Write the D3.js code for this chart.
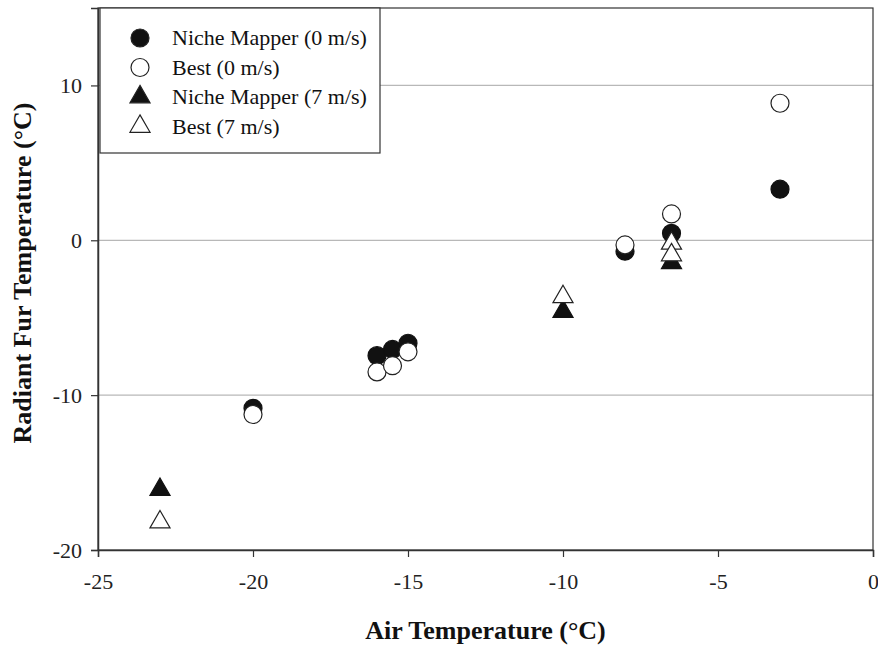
<!DOCTYPE html>
<html>
  <head>
    <meta http-equiv="Content-Type" content="text/html;charset=utf-8"/>
    <title>Radiant Fur Temperature</title>
    <script src="https://d3js.org/d3.v7.min.js"></script>
    <style>
      body { margin: 0; background: #fff; }
      text { font-family: "Liberation Serif", "DejaVu Serif", serif; }
    </style>
  </head>
  <body>
    <svg id="target"></svg>
  </body>
  <script>
    var width = 878;
    var height = 647;
    var margin = { top: 8, right: 5, bottom: 97, left: 98 };

    // data: [air temp, radiant fur temp]
    var nm0 = [ [-20, -10.85], [-16, -7.45], [-15.5, -7.05], [-15, -6.65], [-8, -0.7], [-6.5, 0.45], [-3, 3.3] ];
    var best0 = [ [-20, -11.25], [-16, -8.5], [-15.5, -8.1], [-15, -7.2], [-8, -0.3], [-6.5, 1.7], [-3, 8.85] ];
    var nm7 = [ [-23, -16.1], [-10, -4.6], [-6.5, -1.45] ];
    var best7 = [ [-23, -18.2], [-10, -3.65], [-6.5, -0.2], [-6.5, -0.95] ];

    var xTicks = [ -25, -20, -15, -10, -5, 0 ];
    var yTicks = [ -20, -10, 0, 10 ];
    var gridTicks = [ -10, 0, 10 ];
    var legendLabels = [ "Niche Mapper (0 m/s)", "Best (0 m/s)", "Niche Mapper (7 m/s)", "Best (7 m/s)" ];

    var target = d3.select( "#target" ).attr( "width", width ).attr( "height", height );

    var xScale = d3.scaleLinear().domain( [ -25, 0 ] ).range( [ margin.left, width - margin.right ] );
    var yScale = d3.scaleLinear().domain( [ -20, 15 ] ).range( [ height - margin.bottom, margin.top ] );

    // grid lines
    target.selectAll( "line.grid" ).data( gridTicks )
      .enter().append( "line" )
        .attr( "class", "grid" )
        .attr( "x1", xScale( -25 ) ).attr( "x2", xScale( 0 ) )
        .attr( "y1", d => yScale( d ) ).attr( "y2", d => yScale( d ) )
        .attr( "stroke", "#b8b8b8" ).attr( "stroke-width", 1.2 );

    // frame
    target.append( "rect" )
      .attr( "x", xScale( -25 ) ).attr( "y", yScale( 15 ) )
      .attr( "width", xScale( 0 ) - xScale( -25 ) )
      .attr( "height", yScale( -20 ) - yScale( 15 ) )
      .attr( "fill", "none" ).attr( "stroke", "#333" ).attr( "stroke-width", 1.2 );

    var fmt = d => String( d );   // plain hyphen minus, as in the figure
    var axisX = d3.axisBottom( xScale ).tickValues( xTicks ).tickFormat( fmt ).tickSize( 7 ).tickPadding( 16 );
    var axisY = d3.axisLeft( yScale ).tickValues( yTicks ).tickFormat( fmt ).tickSize( 7 ).tickPadding( 9 );

    var gx = target.append( "g" )
      .attr( "transform", "translate(0," + yScale( -20 ) + ")" )
      .call( axisX );
    var gy = target.append( "g" )
      .attr( "transform", "translate(" + xScale( -25 ) + ",0)" )
      .call( axisY );

    [ gx, gy ].forEach( function ( g ) {
      g.select( ".domain" ).attr( "stroke", "#333" ).attr( "stroke-width", 1.5 );
      g.selectAll( ".tick line" ).attr( "stroke", "#333" ).attr( "stroke-width", 1.2 );
      g.selectAll( ".tick text" )
        .attr( "fill", "#222" )
        .style( "font-family", "'Liberation Serif', serif" )
        .style( "font-size", "22px" );
    } );

    // axis titles
    target.append( "text" )
      .attr( "x", ( xScale( -25 ) + xScale( 0 ) ) / 2 )
      .attr( "y", 639 )
      .attr( "text-anchor", "middle" )
      .attr( "font-weight", "bold" )
      .attr( "font-size", "26px" )
      .attr( "fill", "#111" )
      .text( "Air Temperature (°C)" );

    target.append( "text" )
      .attr( "transform", "translate(31," + 273 + ") rotate(-90)" )
      .attr( "text-anchor", "middle" )
      .attr( "font-weight", "bold" )
      .attr( "font-size", "26px" )
      .attr( "fill", "#111" )
      .text( "Radiant Fur Temperature (°C)" );

    // markers
    var r = 9;
    var tri = d3.symbol().type( d3.symbolTriangle ).size( 175 );

    target.append( "g" ).selectAll( "circle" ).data( nm0 )
      .enter().append( "circle" )
        .attr( "cx", d => xScale( d[0] ) ).attr( "cy", d => yScale( d[1] ) ).attr( "r", r )
        .attr( "fill", "#111" ).attr( "stroke", "#111" ).attr( "stroke-width", 1.2 );

    target.append( "g" ).selectAll( "circle" ).data( best0 )
      .enter().append( "circle" )
        .attr( "cx", d => xScale( d[0] ) ).attr( "cy", d => yScale( d[1] ) ).attr( "r", r )
        .attr( "fill", "#fff" ).attr( "stroke", "#222" ).attr( "stroke-width", 1.2 );

    target.append( "g" ).selectAll( "path" ).data( nm7 )
      .enter().append( "path" )
        .attr( "d", tri )
        .attr( "transform", d => "translate(" + xScale( d[0] ) + "," + yScale( d[1] ) + ")" )
        .attr( "fill", "#111" ).attr( "stroke", "#111" ).attr( "stroke-width", 1.2 );

    target.append( "g" ).selectAll( "path" ).data( best7 )
      .enter().append( "path" )
        .attr( "d", tri )
        .attr( "transform", d => "translate(" + xScale( d[0] ) + "," + yScale( d[1] ) + ")" )
        .attr( "fill", "#fff" ).attr( "stroke", "#222" ).attr( "stroke-width", 1.2 );

    // legend
    var legend = target.append( "g" ).attr( "transform", "translate(100,8)" );
    legend.append( "rect" )
      .attr( "width", 280 ).attr( "height", 145 )
      .attr( "fill", "#fff" ).attr( "stroke", "#333" ).attr( "stroke-width", 1.2 );

    var rows = legend.selectAll( "g.row" ).data( legendLabels )
      .enter().append( "g" )
        .attr( "class", "row" )
        .attr( "transform", ( d, i ) => "translate(0," + ( 30 + i * 29.5 ) + ")" );

    rows.each( function ( d, i ) {
      var row = d3.select( this );
      if ( i < 2 ) {
        row.append( "circle" ).attr( "cx", 40 ).attr( "cy", 0 ).attr( "r", r )
          .attr( "fill", i === 0 ? "#111" : "#fff" ).attr( "stroke", "#222" ).attr( "stroke-width", 1.2 );
      } else {
        row.append( "path" ).attr( "d", tri ).attr( "transform", "translate(40,0)" )
          .attr( "fill", i === 2 ? "#111" : "#fff" ).attr( "stroke", "#222" ).attr( "stroke-width", 1.2 );
      }
      row.append( "text" )
        .attr( "x", 72 ).attr( "y", 7 )
        .attr( "font-size", "22px" ).attr( "fill", "#111" )
        .text( d );
    } );
  </script>
</html>
